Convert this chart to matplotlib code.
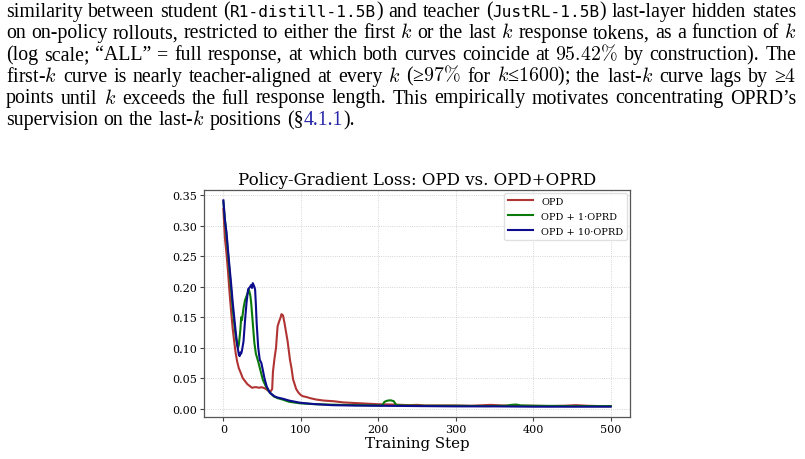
import matplotlib
matplotlib.use('Agg')
import matplotlib.pyplot as plt

plt.rcParams['mathtext.fontset'] = 'cm'

# ---- data ----
opd_step = [0, 2, 4, 6, 8, 10, 12, 14, 16, 18, 20, 22, 25, 28, 31, 34, 37, 40, 43, 46,
            49, 52, 55, 58, 61, 63, 64, 66, 68, 70, 72, 74, 75, 77, 79, 81, 83, 86, 88,
            90, 92, 94, 97, 100, 103, 107, 112, 120, 130, 142, 155, 170, 185, 200, 220,
            240, 250, 260, 280, 300, 320, 345, 360, 380, 400, 420, 440, 455, 470, 485, 500]
opd_loss = [0.328, 0.280, 0.255, 0.225, 0.190, 0.160, 0.132, 0.110, 0.090, 0.076, 0.066,
            0.060, 0.050, 0.045, 0.040, 0.037, 0.034, 0.035, 0.035, 0.034,
            0.035, 0.034, 0.032, 0.029, 0.028, 0.032, 0.060, 0.082, 0.100, 0.135, 0.143, 0.150,
            0.155, 0.153, 0.140, 0.125, 0.110, 0.080, 0.066, 0.048, 0.040, 0.032, 0.026,
            0.022, 0.020, 0.019, 0.017, 0.0147, 0.013, 0.012, 0.010, 0.009, 0.008, 0.007,
            0.0065, 0.0055, 0.006, 0.005, 0.005, 0.005, 0.0045, 0.006, 0.005, 0.0045, 0.0045,
            0.004, 0.0045, 0.0055, 0.0045, 0.004, 0.004]

oprd1_step = [0, 2, 4, 6, 8, 10, 12, 14, 16, 18, 19, 20, 22, 23, 24, 26, 28, 30, 32, 33,
              34, 35, 36, 38, 40, 42, 45, 48, 51, 55, 60, 65, 70, 77, 85, 99, 120, 150, 180,
              200, 205, 208, 212, 216, 220, 223, 230, 260, 300, 340, 365, 372, 378, 384,
              400, 450, 500]
oprd1_loss = [0.340, 0.310, 0.285, 0.255, 0.225, 0.195, 0.165, 0.140, 0.118, 0.103, 0.100,
              0.105, 0.130, 0.150, 0.145, 0.165, 0.178, 0.185, 0.192, 0.195,
              0.190, 0.184, 0.172, 0.140, 0.108, 0.090, 0.077, 0.062, 0.047, 0.036, 0.026,
              0.020, 0.017, 0.0145, 0.011, 0.0085, 0.007, 0.006, 0.0055,
              0.005, 0.005, 0.011, 0.013, 0.0135, 0.012, 0.006, 0.005, 0.0045, 0.0045, 0.004,
              0.0045, 0.006, 0.0065, 0.005, 0.0045, 0.004, 0.004]

oprd10_step = [0, 2, 4, 6, 8, 10, 12, 14, 16, 18, 20, 21, 22, 23, 24, 26, 28, 30, 32, 34,
               36, 37, 38, 40, 41, 42, 43, 45, 47, 49, 51, 53, 56, 60, 66, 70, 77, 85, 99,
               115, 140, 170, 200, 250, 300, 350, 400, 450, 500]
oprd10_loss = [0.342, 0.310, 0.290, 0.260, 0.232, 0.205, 0.175, 0.150, 0.125, 0.104, 0.088,
               0.086, 0.092, 0.090, 0.095, 0.110, 0.145, 0.175, 0.196, 0.199,
               0.203, 0.198, 0.206, 0.200, 0.195, 0.170, 0.140, 0.100, 0.080, 0.075, 0.063,
               0.050, 0.036, 0.026, 0.020, 0.018, 0.016, 0.013, 0.0095,
               0.0075, 0.0055, 0.0048, 0.0045, 0.004, 0.0035, 0.0035, 0.003, 0.003, 0.003]

# ---- caption text above the chart ----
FS = 14.3
BLUE = '#2424a8'
lines = [
    ['similarity', 'between', 'student', [('(', 'rm'), ('R1-distill-1.5B', 'tt'), (')', 'rm')],
     'and', 'teacher', [('(', 'rm'), ('JustRL-1.5B', 'tt'), (')', 'rm')],
     'last-layer', 'hidden', 'states'],
    'on on-policy rollouts, restricted to either the first $k$ or the last $k$ response tokens, as a function of $k$'.split(' '),
    '(log scale; \u201cALL\u201d = full response, at which both curves coincide at $95.42\\%$ by construction). The'.split(' '),
    'first-$k$ curve is nearly teacher-aligned at every $k$ (\u2265$97\\%$ for $k$\u2264$1600$); the last-$k$ curve lags by \u2265$4$'.split(' '),
    'points until $k$ exceeds the full response length. This empirically motivates concentrating OPRD\u2019s'.split(' '),
    'supervision on the last-$k$ positions'.split(' ') + [[('(\u00a7', 'rm'), ('4.1.1', 'blue'), (').', 'rm')]],
]
baselines = [16.7, 38.4, 60.1, 81.8, 103.5, 125.2]

W, H = 805, 460
fig = plt.figure(figsize=(W / 100, H / 100), dpi=100)
renderer = fig.canvas.get_renderer()

styles = {
    'rm': dict(family='Liberation Serif', size=FS, color='black'),
    'tt': dict(family='DejaVu Sans Mono', size=11.6, color='black'),
    'blue': dict(family='Liberation Serif', size=FS, color=BLUE),
}


def make_word(word):
    segs = [(word, 'rm')] if isinstance(word, str) else word
    arts = []
    for s, st in segs:
        t = fig.text(0, 0, s, va='baseline', ha='left', **styles[st])
        arts.append((t, t.get_window_extent(renderer).width))
    return arts


x_left, x_right = 6, 796
space = FS * 100 / 72 * 0.25
for i, (words, yb) in enumerate(zip(lines, baselines)):
    made = [make_word(w) for w in words]
    widths = [sum(w for _, w in arts) for arts in made]
    if i < len(lines) - 1:
        gap = (x_right - x_left - sum(widths)) / (len(made) - 1)
    else:
        gap = space * 1.1
    x = x_left
    for arts, wd in zip(made, widths):
        xx = x
        for t, w in arts:
            t.set_position((xx / W, 1 - yb / H))
            xx += w
        x += wd + gap

# ---- chart ----
ax = fig.add_axes([204 / W, 1 - 418 / H, (630 - 204) / W, (418 - 191) / H])
ax.plot(opd_step, opd_loss, color='#b03434', lw=1.5, label='OPD')
ax.plot(oprd1_step, oprd1_loss, color='#0a7a0a', lw=1.5, label='OPD + 1\u00b7OPRD')
ax.plot(oprd10_step, oprd10_loss, color='#0c0c8c', lw=1.5, label='OPD + 10\u00b7OPRD')

ax.set_title('Policy-Gradient Loss: OPD vs. OPD+OPRD', family='DejaVu Serif', fontsize=12, pad=4)
ax.set_xlabel('Training Step', family='DejaVu Serif', fontsize=10.8, labelpad=1.5)
ax.set_xticks([0, 100, 200, 300, 400, 500])
ax.set_yticks([0.0, 0.05, 0.10, 0.15, 0.20, 0.25, 0.30, 0.35])
ax.set_yticklabels(['0.00', '0.05', '0.10', '0.15', '0.20', '0.25', '0.30', '0.35'])
for lab in ax.get_xticklabels() + ax.get_yticklabels():
    lab.set_family('DejaVu Serif')
    lab.set_fontsize(8)
ax.tick_params(length=3, width=0.8, color='#444444', pad=2)
ax.grid(True, ls=':', lw=0.6, color='#c8c8c8')
for sp in ax.spines.values():
    sp.set_color('#555555')
    sp.set_linewidth(0.9)
leg = ax.legend(loc='upper right', prop=dict(family='DejaVu Serif', size=7),
                borderaxespad=0.3, handlelength=2.6, labelspacing=0.62, framealpha=0.9)
leg.get_frame().set_edgecolor('#dddddd')

fig.savefig('out.png', dpi=100)
